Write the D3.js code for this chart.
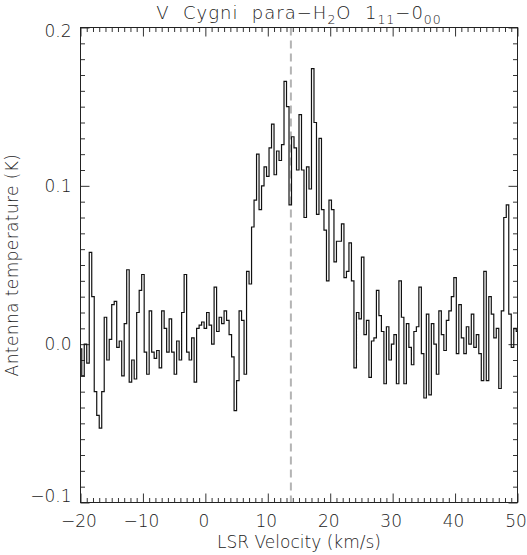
<!DOCTYPE html>
<html><head><meta charset="utf-8">
<script src="https://cdn.jsdelivr.net/npm/d3@7"></script>
<style>body{margin:0;background:#fff} svg{display:block}</style>
</head><body>
<svg id="c" width="527" height="555"></svg>
<script>
// ---- data ----
const velocities = [
-20.0,-19.6,-19.2,-18.8,-18.4,-18.0,-17.6,-17.2,-16.8,-16.4,-16.0,-15.6,-15.2,-14.8,-14.4,-14.0,-13.6,-13.2,-12.8,-12.4,
-12.0,-11.6,-11.2,-10.8,-10.4,-10.0,-9.6,-9.2,-8.8,-8.4,-8.0,-7.6,-7.2,-6.8,-6.4,-6.0,-5.6,-5.2,-4.8,-4.4,
-4.0,-3.6,-3.2,-2.8,-2.4,-2.0,-1.6,-1.2,-0.8,-0.4,0.0,0.4,0.8,1.2,1.6,2.0,2.4,2.8,3.2,3.6,
4.0,4.4,4.8,5.2,5.6,6.0,6.4,6.8,7.2,7.6,8.0,8.4,8.8,9.2,9.6,10.0,10.4,10.8,11.2,11.6,
12.0,12.4,12.8,13.2,13.6,14.0,14.4,14.8,15.2,15.6,16.0,16.4,16.8,17.2,17.6,18.0,18.4,18.8,19.2,19.6,
20.0,20.4,20.8,21.2,21.6,22.0,22.4,22.8,23.2,23.6,24.0,24.4,24.8,25.2,25.6,26.0,26.4,26.8,27.2,27.6,
28.0,28.4,28.8,29.2,29.6,30.0,30.4,30.8,31.2,31.6,32.0,32.4,32.8,33.2,33.6,34.0,34.4,34.8,35.2,35.6,
36.0,36.4,36.8,37.2,37.6,38.0,38.4,38.8,39.2,39.6,40.0,40.4,40.8,41.2,41.6,42.0,42.4,42.8,43.2,43.6,
44.0,44.4,44.8,45.2,45.6,46.0,46.4,46.8,47.2,47.6,48.0,48.4,48.8,49.2,49.6,50.0];
const temperatures = [
-0.003,-0.020,0.000,-0.012,0.058,0.030,-0.030,-0.045,-0.053,-0.030,0.017,-0.010,0.003,0.025,0.027,-0.002,0.002,-0.020,0.013,0.047,
-0.024,-0.010,-0.022,0.020,0.034,0.044,-0.005,-0.019,0.021,-0.005,-0.009,-0.004,-0.015,0.021,0.010,-0.005,0.016,-0.005,-0.019,0.002,
-0.010,0.020,0.044,-0.005,-0.010,0.004,-0.024,0.010,0.012,0.014,0.010,0.020,0.012,0.000,0.036,0.008,0.017,0.013,0.021,0.015,
0.006,-0.008,-0.042,-0.023,0.021,0.015,-0.019,0.046,0.038,0.074,0.091,0.120,0.085,0.100,0.112,0.106,0.124,0.139,0.107,0.122,
0.116,0.126,0.166,0.150,0.088,0.131,0.124,0.110,0.145,0.110,0.080,0.112,0.098,0.174,0.140,0.082,0.130,0.085,0.072,0.040,
0.091,0.085,0.052,0.065,0.065,0.076,0.042,0.046,0.064,0.040,-0.015,0.020,0.016,0.055,0.006,0.015,-0.021,0.002,0.004,0.034,
0.018,0.008,-0.025,0.011,-0.010,0.000,0.006,-0.025,0.040,0.017,-0.025,0.013,-0.002,-0.013,0.008,0.011,0.036,-0.006,-0.034,0.019,
-0.032,0.013,0.000,-0.019,0.021,0.006,-0.004,0.015,0.021,0.030,0.042,-0.006,0.025,0.004,-0.006,0.011,0.000,0.019,-0.002,0.006,
-0.006,-0.023,0.046,-0.023,0.030,0.019,0.004,0.010,-0.028,0.021,0.080,0.088,0.019,-0.002,0.010,0.008];
const xTickValues = [-20,-10,0,10,20,30,40,50];
const xTickLabels = ["\u221220","\u221210","0","10","20","30","40","50"];
const yTickValues = [-0.1,0.0,0.1,0.2];
const yTickLabels = ["\u22120.1","0.0","0.1","0.2"];
const systemicVelocity = [13.7];
const xDomain = [-20,50];
const yDomain = [-0.1,0.2];
const xTitle = "LSR Velocity (km/s)";
const yTitle = "Antenna temperature (K)";

// ---- layout ----
const L = 80.5, R = 517.5, T = 27.5, B = 502.5;
const font = "'DejaVu Sans', sans-serif";
const textColor = "#222";
const textWeight = 200;
const svg = d3.select("#c");

const x = d3.scaleLinear().domain(xDomain).range([L, R]);
const y = d3.scaleLinear().domain(yDomain).range([B, T]);

const xMinor = d3.range(xDomain[0], xDomain[1] + 1, 1).filter(v => !xTickValues.includes(v));
const yMinor = d3.range(-10, 21).map(v => v / 100).filter(v => !yTickValues.some(t => Math.abs(t - v) < 1e-9));

function styleAxis(g) {
  g.select(".domain").remove();
  g.selectAll("line").attr("stroke", "#333").attr("stroke-width", 1);
  g.selectAll("text").attr("font-family", font).attr("font-size", 17)
    .attr("font-weight", textWeight).attr("fill", textColor);
}

// minor ticks
svg.append("g").attr("transform", `translate(0,${B})`)
  .call(d3.axisBottom(x).tickValues(xMinor).tickSize(-4.5).tickFormat("")).call(styleAxis);
svg.append("g").attr("transform", `translate(0,${T})`)
  .call(d3.axisTop(x).tickValues(xMinor).tickSize(-4.5).tickFormat("")).call(styleAxis);
svg.append("g").attr("transform", `translate(${L},0)`)
  .call(d3.axisLeft(y).tickValues(yMinor).tickSize(-4.5).tickFormat("")).call(styleAxis);
svg.append("g").attr("transform", `translate(${R},0)`)
  .call(d3.axisRight(y).tickValues(yMinor).tickSize(-4.5).tickFormat("")).call(styleAxis);

// major ticks + labels
const gx = svg.append("g").attr("transform", `translate(0,${B})`)
  .call(d3.axisBottom(x).tickValues(xTickValues).tickSize(-9).tickPadding(12.5)
    .tickFormat((d, i) => xTickLabels[i])).call(styleAxis);
gx.selectAll("text").attr("dx", -2);
svg.append("g").attr("transform", `translate(0,${T})`)
  .call(d3.axisTop(x).tickValues(xTickValues).tickSize(-9).tickFormat("")).call(styleAxis);
const gy = svg.append("g").attr("transform", `translate(${L},0)`)
  .call(d3.axisLeft(y).tickValues(yTickValues).tickSize(-9).tickPadding(9)
    .tickFormat((d, i) => yTickLabels[i])).call(styleAxis);
gy.selectAll("text").attr("y", d => d === yDomain[1] ? 3.5 : (d === yDomain[0] ? -6 : 0));
svg.append("g").attr("transform", `translate(${R},0)`)
  .call(d3.axisRight(y).tickValues(yTickValues).tickSize(-9).tickFormat("")).call(styleAxis);

// clip
svg.append("clipPath").attr("id", "plotclip").append("rect")
  .attr("x", L).attr("y", T).attr("width", R - L).attr("height", B - T);

// systemic velocity dashed line
svg.append("g").selectAll("line").data(systemicVelocity).join("line")
  .attr("x1", d => x(d)).attr("x2", d => x(d)).attr("y1", T).attr("y2", B)
  .attr("stroke", "#b4b4b4").attr("stroke-width", 2).attr("stroke-dasharray", "8,5");

// spectrum
const data = velocities.map((v, i) => ({ v, t: temperatures[i] }));
const line = d3.line().x(d => x(d.v)).y(d => y(d.t)).curve(d3.curveStep);
svg.append("path").datum(data).attr("d", line)
  .attr("clip-path", "url(#plotclip)")
  .attr("fill", "none").attr("stroke", "#111").attr("stroke-width", 1.2);

// frame
svg.append("rect").attr("x", L).attr("y", T).attr("width", R - L).attr("height", B - T)
  .attr("fill", "none").attr("stroke", "#222").attr("stroke-width", 1);

// titles
const title = svg.append("text").attr("x", (L + R) / 2).attr("y", 18.5)
  .attr("text-anchor", "middle").attr("font-family", font).attr("font-size", 18)
  .attr("font-weight", textWeight).attr("letter-spacing", 1).attr("fill", textColor)
  .attr("xml:space", "preserve");
const titleParts = [["V  Cygni  para\u2212H", 0], ["2", 1], ["O  1", 0], ["11", 1], ["\u22120", 0], ["00", 1]];
titleParts.forEach(([s, sub], i) => {
  const prevSub = i > 0 ? titleParts[i - 1][1] : 0;
  const dy = sub && !prevSub ? 5 : (!sub && prevSub ? -5 : 0);
  title.append("tspan").attr("dy", dy).attr("font-size", sub ? 12.5 : 18).text(s);
});

svg.append("text").attr("x", (L + R) / 2).attr("y", 548)
  .attr("text-anchor", "middle").attr("font-family", font).attr("font-size", 17)
  .attr("font-weight", textWeight).attr("fill", textColor).text(xTitle);
svg.append("text").attr("transform", `translate(17.5,${(T + B) / 2}) rotate(-90)`)
  .attr("text-anchor", "middle").attr("font-family", font).attr("font-size", 17)
  .attr("font-weight", textWeight).attr("letter-spacing", 0.4).attr("fill", textColor).text(yTitle);
</script>
</body></html>
